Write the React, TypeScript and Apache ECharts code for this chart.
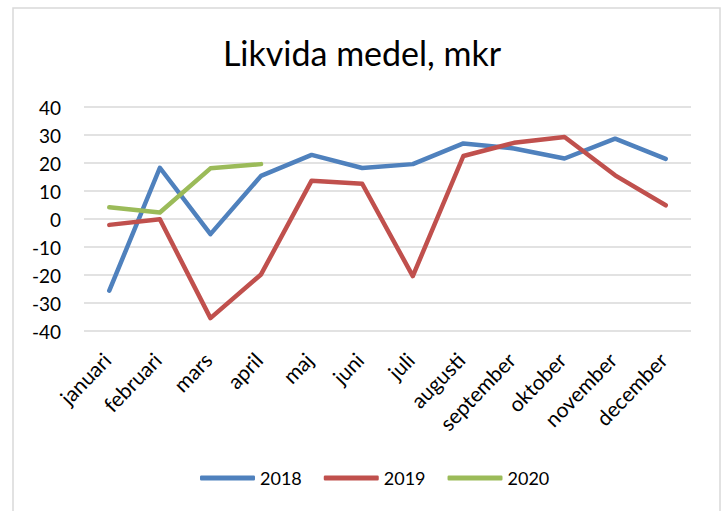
import React, { useEffect, useRef } from "react";
import * as echarts from "echarts";

const categories = ["januari", "februari", "mars", "april", "maj", "juni", "juli", "augusti", "september", "oktober", "november", "december"];
const values2018 = [-25.6, 18.3, -5.4, 15.4, 22.9, 18.2, 19.6, 27, 25.2, 21.6, 28.7, 21.5];
const values2019 = [-2.1, -0.1, -35.4, -19.8, 13.7, 12.6, -20.4, 22.5, 27.2, 29.3, 15.6, 4.9];
const values2020 = [4.2, 2.3, 18.1, 19.6];
const yTicks = { min: -40, max: 40, interval: 10 };

const FONT = "Lato, 'Open Sans', sans-serif";

export default function App() {
  const ref = useRef<HTMLDivElement>(null);
  useEffect(() => {
    if (!ref.current) return;
    const chart = echarts.init(ref.current, undefined, { renderer: "svg" });
    const mk = (name: string, data: number[], color: string) => ({
      name,
      type: "line",
      data,
      symbol: "none",
      lineStyle: { width: 4.5, color, cap: "round", join: "round" },
      itemStyle: { color },
    });
    chart.setOption({
      animation: false,
      backgroundColor: "#ffffff",
      graphic: [
        {
          type: "rect",
          shape: { x: 13, y: 8, width: 707, height: 520 },
          style: { fill: "none", stroke: "#d9d9d9", lineWidth: 1.5 },
          silent: true,
        },
      ],
      title: {
        text: "Likvida medel, mkr",
        left: "center",
        top: 30,
        textStyle: { fontFamily: FONT, fontSize: 34, fontWeight: "normal", color: "#000" },
      },
      legend: {
        top: 469,
        left: 200,
        padding: 0,
        itemWidth: 55,
        itemHeight: 5,
        itemGap: 22,
        icon: "roundRect",
        textStyle: { fontFamily: FONT, fontSize: 18, color: "#000" },
        data: ["2018", "2019", "2020"],
      },
      grid: { left: 84, right: 33, top: 107, bottom: 180, containLabel: false },
      xAxis: {
        type: "category",
        data: categories,
        boundaryGap: true,
        axisLine: { show: false },
        axisTick: { show: false },
        axisLabel: {
          rotate: 46,
          interval: 0,
          margin: 22,
          padding: [0, 4, 0, 0],
          fontFamily: FONT,
          fontSize: 21,
          color: "#000",
        },
      },
      yAxis: {
        type: "value",
        min: yTicks.min,
        max: yTicks.max,
        interval: yTicks.interval,
        axisLine: { show: false },
        axisTick: { show: false },
        axisLabel: { margin: 23, fontFamily: FONT, fontSize: 19, color: "#000" },
        splitLine: { lineStyle: { color: "#d9d9d9", width: 1.5 } },
      },
      series: [
        mk("2018", values2018, "#4F81BD"),
        mk("2019", values2019, "#C0504D"),
        mk("2020", values2020, "#9BBB59"),
      ],
    });
    return () => chart.dispose();
  }, []);
  return <div ref={ref} style={{ position: "fixed", left: 0, top: 0, width: 724, height: 511 }} />;
}
